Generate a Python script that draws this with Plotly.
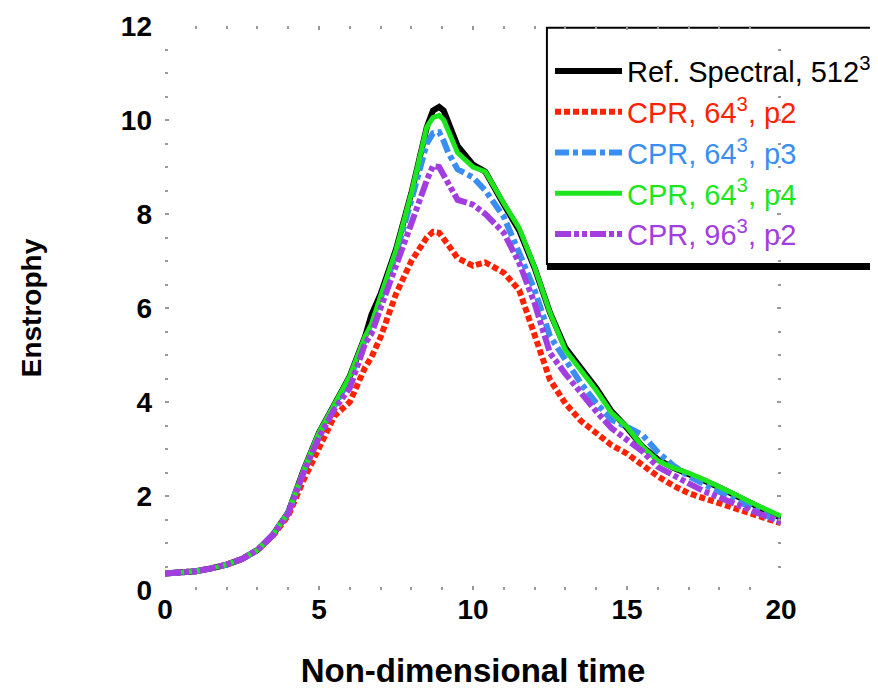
import plotly.graph_objects as go

# Non-dimensional time samples
time = [0, 0.5, 1, 1.5, 2, 2.5, 3, 3.5, 4, 4.5, 5, 5.5, 6, 6.5, 6.7, 7, 7.5, 8, 8.5, 8.7, 8.9,
        9.05, 9.2, 9.5, 10, 10.4, 11, 11.5, 12, 12.5, 13, 13.5, 14, 14.5, 15, 15.5, 16, 16.5,
        17, 17.5, 18, 18.5, 19, 19.5, 20]

spectral_512 = [0.35, 0.37, 0.40, 0.46, 0.54, 0.66, 0.85, 1.17, 1.65, 2.55, 3.35, 3.95, 4.55,
                5.40, 5.85, 6.30, 7.25, 8.45, 9.85, 10.20, 10.28, 10.20, 9.95, 9.45, 9.05, 8.90,
                8.20, 7.65, 6.85, 5.90, 5.15, 4.75, 4.30, 3.80, 3.45, 3.05, 2.78, 2.60, 2.48,
                2.33, 2.18, 2.02, 1.86, 1.70, 1.53]

cpr_64_p2 = [0.35, 0.37, 0.40, 0.46, 0.54, 0.66, 0.85, 1.15, 1.58, 2.34, 3.05, 3.70, 4.00,
             4.74, 4.95, 5.38, 6.30, 7.00, 7.50, 7.62, 7.60, 7.48, 7.34, 7.06, 6.90, 6.97,
             6.75, 6.38, 5.38, 4.47, 3.97, 3.60, 3.34, 3.08, 2.90, 2.65, 2.42, 2.22, 2.06,
             1.95, 1.85, 1.74, 1.64, 1.53, 1.42]

cpr_64_p3 = [0.35, 0.37, 0.40, 0.46, 0.54, 0.66, 0.85, 1.17, 1.64, 2.52, 3.32, 3.92, 4.50,
             5.35, 5.60, 6.20, 7.15, 8.30, 9.50, 9.72, 9.74, 9.55, 9.30, 8.95, 8.78, 8.50,
             7.94, 7.17, 6.38, 5.40, 4.90, 4.40, 3.98, 3.62, 3.47, 3.30, 2.93, 2.65, 2.42,
             2.25, 2.08, 1.92, 1.77, 1.60, 1.43]

cpr_64_p4 = [0.35, 0.37, 0.40, 0.46, 0.54, 0.66, 0.85, 1.17, 1.65, 2.55, 3.35, 3.95, 4.55,
             5.40, 5.65, 6.25, 7.23, 8.45, 9.85, 10.05, 10.10, 10.00, 9.75, 9.30, 9.00, 8.90,
             8.23, 7.70, 6.87, 5.90, 5.10, 4.68, 4.25, 3.77, 3.47, 3.05, 2.75, 2.60, 2.49,
             2.35, 2.20, 2.04, 1.87, 1.72, 1.57]

cpr_96_p2 = [0.35, 0.37, 0.40, 0.46, 0.54, 0.66, 0.85, 1.17, 1.62, 2.50, 3.25, 3.85, 4.30,
             5.25, 5.45, 6.00, 6.87, 7.80, 8.72, 9.02, 9.00, 8.82, 8.60, 8.30, 8.20, 8.00,
             7.60, 6.96, 6.10, 5.04, 4.60, 4.19, 3.80, 3.44, 3.20, 2.95, 2.62, 2.43, 2.27,
             2.10, 1.96, 1.82, 1.70, 1.57, 1.45]

x_ticks = [0, 5, 10, 15, 20]
y_ticks = [0, 2, 4, 6, 8, 10, 12]

series = [
    ("Ref. Spectral, 512<sup>3</sup>", spectral_512, "#000000", "solid", 6),
    ("CPR, 64<sup>3</sup>, p2", cpr_64_p2, "#ff2200", "6px,3px", 6),
    ("CPR, 64<sup>3</sup>, p3", cpr_64_p3, "#3a8ef2", "14px,4px,5px,4px", 6),
    ("CPR, 64<sup>3</sup>, p4", cpr_64_p4, "#1ee61e", "solid", 5),
    ("CPR, 96<sup>3</sup>, p2", cpr_96_p2, "#a23ee0", "16px,3px,5px,3px,5px,3px", 6),
]

fig = go.Figure()
for name, vals, color, dash, width in series:
    fig.add_trace(go.Scatter(
        x=time, y=vals, mode="lines",
        name=f"<span style='color:{color}'>{name}</span>",
        line=dict(color=color, dash=dash, width=width),
    ))

font_family = "Liberation Sans, Arial, sans-serif"
tick_color = "#9a9a9a"

# legend frame (extends past the right edge like the reference)
fig.add_shape(type="rect", xref="paper", yref="paper",
              x0=0.62, x1=1.25, y0=0.578, y1=0.997,
              line=dict(color="black", width=2), fillcolor="white", layer="below")
fig.add_shape(type="line", xref="paper", yref="paper",
              x0=0.62, x1=1.25, y0=0.572, y1=0.572,
              line=dict(color="black", width=5))

fig.update_layout(
    width=878, height=690,
    margin=dict(l=157, r=105, t=18, b=108, autoexpand=False),
    paper_bgcolor="white", plot_bgcolor="white",
    font=dict(family=font_family, color="black"),
    showlegend=True,
    legend=dict(
        x=0.625, y=0.965, xanchor="left", yanchor="top",
        borderwidth=0, bgcolor="rgba(255,255,255,0)",
        font=dict(family=font_family, size=29, color="black"),
        itemwidth=67, tracegroupgap=0,
    ),
    xaxis=dict(
        range=[0, 20], tickvals=x_ticks, ticktext=[str(v) for v in x_ticks],
        showgrid=False, zeroline=False, showline=False,
        ticks="inside", ticklen=4, tickwidth=2, tickcolor=tick_color, mirror="ticks",
        minor=dict(dtick=1, ticks="inside", ticklen=3, tickwidth=2, tickcolor=tick_color),
        tickfont=dict(family=font_family, size=28, weight="bold"),
        title=dict(text="Non-dimensional time", font=dict(family=font_family, size=33, weight="bold"),
                   standoff=34),
    ),
    yaxis=dict(
        range=[0, 12], tickvals=y_ticks, ticktext=[str(v) for v in y_ticks],
        showgrid=False, zeroline=False, showline=False,
        ticks="inside", ticklen=4, tickwidth=2, tickcolor=tick_color, mirror="ticks",
        minor=dict(dtick=0.5, ticks="inside", ticklen=3, tickwidth=2, tickcolor=tick_color),
        tickfont=dict(family=font_family, size=28, weight="bold"),
        ticklabelstandoff=12,
        title=dict(text="Enstrophy", font=dict(family=font_family, size=28, weight="bold"),
                   standoff=71),
    ),
)

fig.write_html("out.html")
